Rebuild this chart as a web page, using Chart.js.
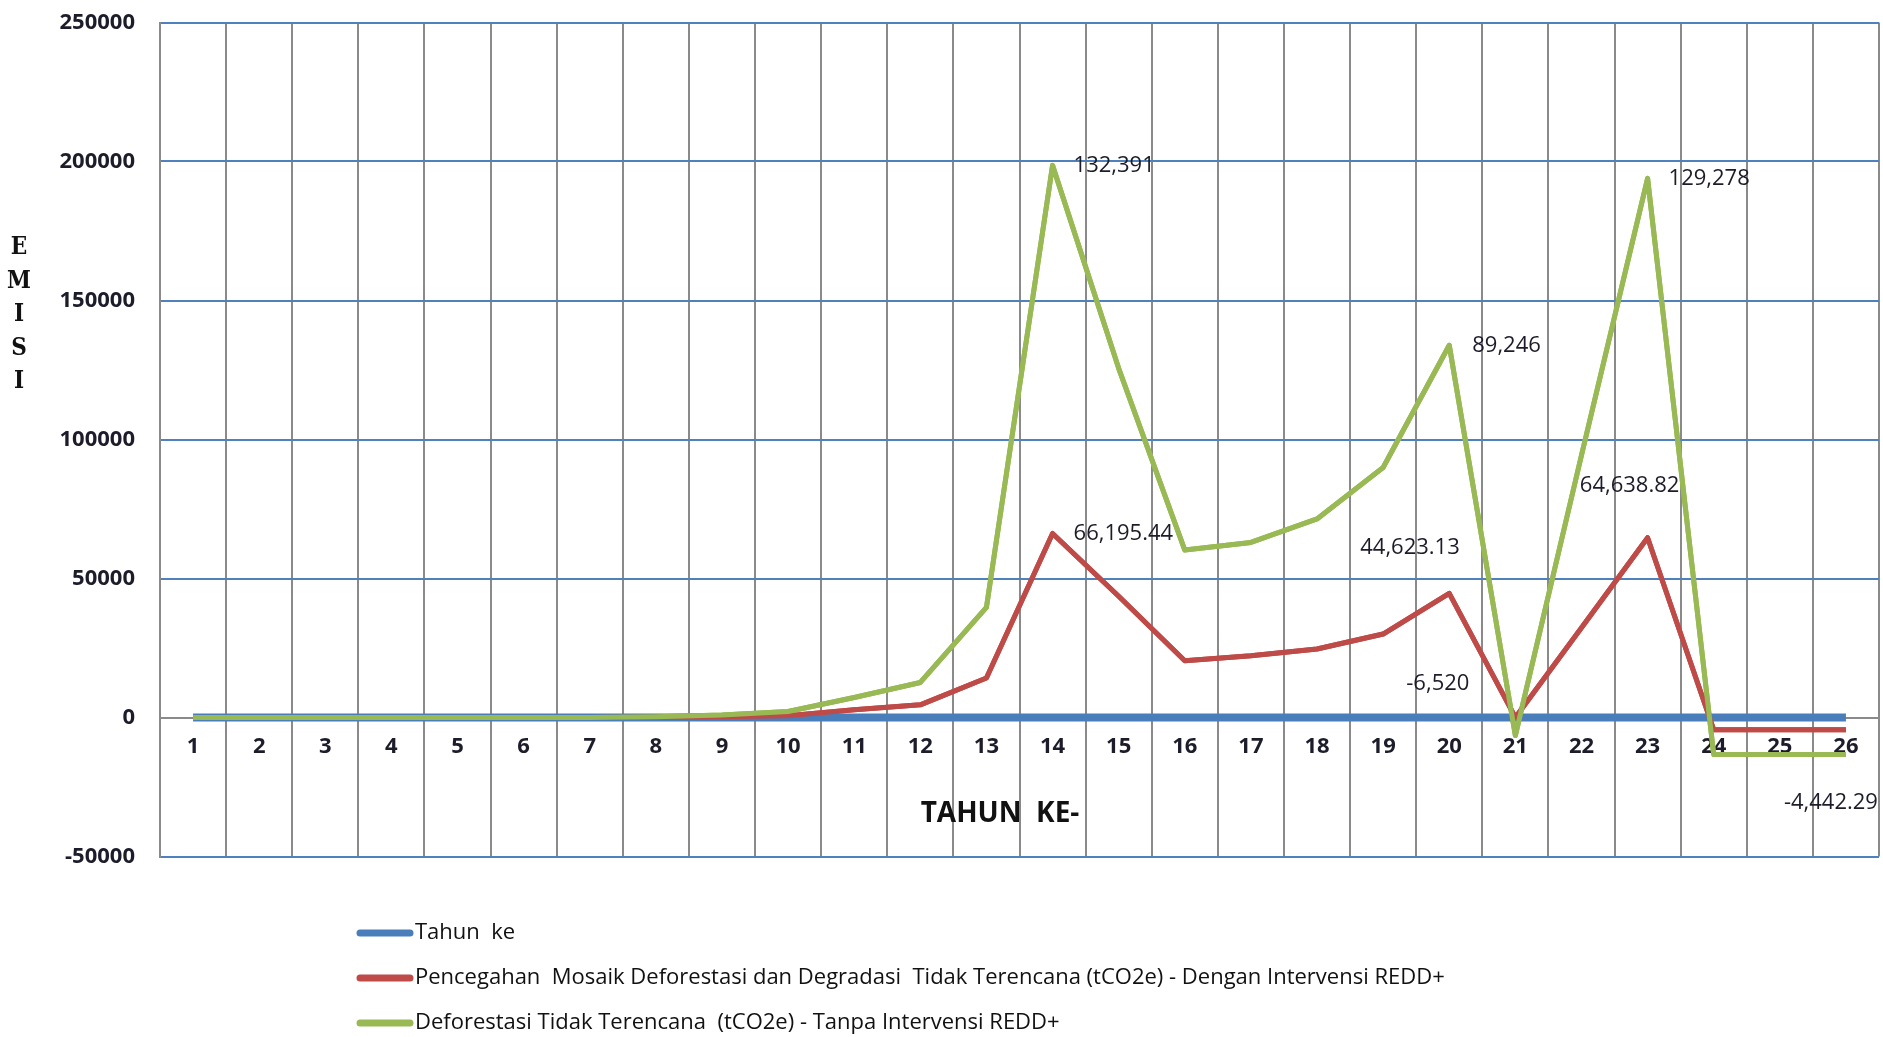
<!DOCTYPE html>
<html>
<head>
<meta charset="utf-8">
<title>Emisi per Tahun</title>
<script src="https://cdn.jsdelivr.net/npm/chart.js@4.4.1/dist/chart.umd.min.js"></script>
<style>
  html, body { margin: 0; padding: 0; background: #ffffff; }
  #wrap { width: 1883px; height: 1037px; position: relative; }
</style>
</head>
<body>
<div id="wrap"><canvas id="chart" width="1883" height="1037"></canvas></div>
<script>
// Years on the category axis
const years = ['1','2','3','4','5','6','7','8','9','10','11','12','13',
               '14','15','16','17','18','19','20','21','22','23','24','25','26'];

// Value-axis tick labels
const yTicks = [-50000, 0, 50000, 100000, 150000, 200000, 250000];

// Series names (legend)
const seriesNames = [
  'Tahun  ke',
  'Pencegahan  Mosaik Deforestasi dan Degradasi  Tidak Terencana (tCO2e) - Dengan Intervensi REDD+',
  'Deforestasi Tidak Terencana  (tCO2e) - Tanpa Intervensi REDD+'
];

// Series values (stacked line chart: each series sits on top of the previous one)
const tahunKe = [1,2,3,4,5,6,7,8,9,10,11,12,13,14,15,16,17,18,19,20,21,22,23,24,25,26];
const denganRedd = [0, 0, 0, 0, 0, 0, 0, 100, 300, 600, 2800, 4550, 14200,
                    66195.44, 43600, 20400, 22200, 24600, 30000, 44623.13,
                    0, 32300, 64638.82, -4442.29, -4442.29, -4442.29];
const tanpaRedd = [0, 0, 0, 0, 0, 0, 0, 150, 560, 1560, 4400, 8050, 25400,
                   132391, 82000, 39800, 40750, 46800, 59900, 89246,
                   -6520, 62000, 129278, -8880, -8880, -8880];

// Points that carry a value label: [series index, year]
const labelledPoints = [
  [2, '14'], [1, '14'], [2, '20'], [1, '20'], [2, '21'], [2, '23'], [1, '23'], [1, '26']
];

// Where each value label sits relative to its point
const labelPlacement = {
  '2:14': { dx: 21,  dy: 0,   align: 'left' },
  '1:14': { dx: 21,  dy: 0,   align: 'left' },
  '2:20': { dx: 23,  dy: 0,   align: 'left' },
  '1:20': { dx: -89, dy: -46, align: 'left' },
  '2:21': { dx: -46, dy: -52, align: 'right' },
  '2:23': { dx: 21,  dy: 0,   align: 'left' },
  '1:23': { dx: -18, dy: -52, align: 'center' },
  '1:26': { dx: 32,  dy: 73,  align: 'right' }
};

const TEXT = '#1c1c2a';
const FONT = '"Open Sans", "Liberation Sans", sans-serif';

// Keep the red and green lines above the thick blue one
const layerOrder = {
  id: 'layerOrder',
  afterDatasetsDraw(chart) {
    [1, 2].forEach(i => {
      const meta = chart.getDatasetMeta(i);
      if (meta && !meta.hidden) meta.controller.draw();
    });
  }
};

// Value labels next to selected points
const valueLabels = {
  id: 'valueLabels',
  afterDatasetsDraw(chart) {
    const ctx = chart.ctx;
    ctx.save();
    ctx.font = '22px ' + FONT;
    ctx.fillStyle = TEXT;
    ctx.textBaseline = 'middle';
    labelledPoints.forEach(([s, year]) => {
      const idx = years.indexOf(year);
      const el = chart.getDatasetMeta(s).data[idx];
      const value = chart.data.datasets[s].data[idx];
      const p = labelPlacement[s + ':' + year];
      const text = value.toLocaleString('en-US', { maximumFractionDigits: 2 });
      ctx.textAlign = p.align;
      ctx.fillText(text, el.x + p.dx, el.y + p.dy);
    });
    ctx.restore();
  }
};

// Axis titles: "TAHUN KE-" under the plot, "EMISI" stacked letter by letter on the left
const axisTitles = {
  id: 'axisTitles',
  afterDraw(chart) {
    const ctx = chart.ctx;
    ctx.save();
    ctx.fillStyle = '#111111';
    ctx.textAlign = 'center';
    ctx.textBaseline = 'middle';
    ctx.font = 'bold 28px ' + FONT;
    ctx.fillText('TAHUN  KE-', 1000, 814);
    ctx.font = 'bold 24px "DejaVu Serif Condensed", "Liberation Serif", serif';
    'EMISI'.split('').forEach((ch, i) => ctx.fillText(ch, 19, 248 + i * 33.5));
    ctx.restore();
  }
};

// Legend: one series per row below the plot
const legendRows = {
  id: 'legendRows',
  afterDraw(chart) {
    const ctx = chart.ctx;
    ctx.save();
    chart.data.datasets.forEach((ds, i) => {
      const y = 933 + i * 45;
      ctx.strokeStyle = ds.borderColor;
      ctx.lineWidth = 7;
      ctx.lineCap = 'round';
      ctx.beginPath();
      ctx.moveTo(360, y);
      ctx.lineTo(410, y);
      ctx.stroke();
      ctx.fillStyle = '#111111';
      ctx.font = '22px ' + FONT;
      ctx.textAlign = 'left';
      ctx.textBaseline = 'middle';
      ctx.fillText(ds.label, 415, y);
    });
    ctx.restore();
  }
};

function build() {
  new Chart(document.getElementById('chart'), {
    type: 'line',
    data: {
      labels: years,
      datasets: [
        { label: seriesNames[0], data: tahunKe, borderColor: '#4a7ebb', backgroundColor: '#4a7ebb',
          borderWidth: 8, pointRadius: 0, tension: 0, fill: false, borderJoinStyle: 'round' },
        { label: seriesNames[1], data: denganRedd, borderColor: '#be4b48', backgroundColor: '#be4b48',
          borderWidth: 5, pointRadius: 0, tension: 0, fill: false, borderJoinStyle: 'round' },
        { label: seriesNames[2], data: tanpaRedd, borderColor: '#98b954', backgroundColor: '#98b954',
          borderWidth: 5, pointRadius: 0, tension: 0, fill: false, borderJoinStyle: 'round' }
      ]
    },
    options: {
      responsive: false,
      animation: false,
      devicePixelRatio: 1,
      layout: { padding: { left: 0, right: 4, top: 22.5, bottom: 180.5 } },
      plugins: {
        legend: { display: false },
        tooltip: { enabled: false },
        title: { display: false }
      },
      scales: {
        x: {
          type: 'category',
          position: { y: 0 },
          offset: true,
          grid: { offset: true, color: '#8a8a8a', lineWidth: 2, drawTicks: false },
          border: { display: true, color: '#8a8a8a', width: 2 },
          ticks: {
            color: TEXT,
            font: { family: FONT, size: 22, weight: 'bold' },
            padding: 16,
            maxRotation: 0,
            autoSkip: false
          }
        },
        y: {
          stacked: 'single',
          min: -50000,
          max: 250000,
          afterBuildTicks: scale => { scale.ticks = yTicks.map(v => ({ value: v })); },
          afterFit: scale => {
            scale.width = 160;
            scale.paddingTop = 0;
            scale.paddingBottom = 0;
          },
          grid: { color: '#4f81bd', lineWidth: 2, drawTicks: false },
          border: { display: true, color: '#8a8a8a', width: 2 },
          ticks: {
            color: TEXT,
            font: { family: FONT, size: 22, weight: 'bold' },
            padding: 25,
            callback: v => String(v)
          }
        }
      }
    },
    plugins: [layerOrder, valueLabels, axisTitles, legendRows]
  });
}

const fontLoads = [
  '22px "Open Sans"', 'bold 22px "Open Sans"', 'bold 28px "Open Sans"',
  'bold 24px "DejaVu Serif Condensed"'
].map(f => document.fonts.load(f).catch(() => null));
Promise.all(fontLoads).then(build, build);
</script>
</body>
</html>
